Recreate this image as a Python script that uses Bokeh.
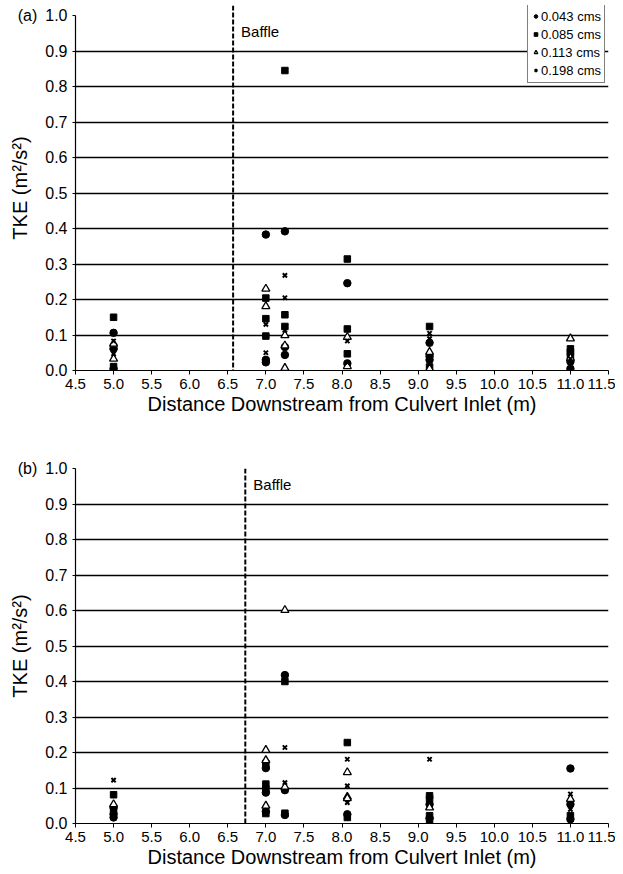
from bokeh.plotting import figure
from bokeh.layouts import column
from bokeh.models import Span, Label, FixedTicker, Legend, LegendItem
from bokeh.embed import file_html
from bokeh.resources import INLINE

FONT = "Liberation Sans"
SERIES = ["0.043 cms", "0.085 cms", "0.113 cms", "0.198 cms"]
X_TICKS = [4.5, 5.0, 5.5, 6.0, 6.5, 7.0, 7.5, 8.0, 8.5, 9.0, 9.5, 10.0, 10.5, 11.0, 11.5]
Y_TICKS = [0.0, 0.1, 0.2, 0.3, 0.4, 0.5, 0.6, 0.7, 0.8, 0.9, 1.0]
BAFFLE_A = 6.57
BAFFLE_B = 6.73

# ---- panel (a) ----
a_c_x = [5.0, 5.0, 5.0, 7.0, 7.0, 7.0, 7.25, 7.25, 7.25, 8.07, 8.07, 9.15, 9.15, 9.15, 11.0, 11.0]
a_c_y = [0.106, 0.061, 0.005, 0.383, 0.03, 0.023, 0.392, 0.044, 0.066, 0.246, 0.02, 0.078, 0.04, 0.03, 0.025, 0.005]
a_s_x = [5.0, 5.0, 5.0, 7.0, 7.0, 7.0, 7.25, 7.25, 7.25, 8.07, 8.07, 8.07, 9.15, 9.15, 11.0, 11.0, 11.0]
a_s_y = [0.15, 0.066, 0.011, 0.204, 0.146, 0.097, 0.845, 0.157, 0.124, 0.314, 0.117, 0.047, 0.124, 0.01, 0.061, 0.052, 0.042]
a_t_x = [5.0, 5.0, 7.0, 7.0, 7.25, 7.25, 7.25, 8.07, 8.07, 9.15, 9.15, 11.0, 11.0]
a_t_y = [0.033, 0.075, 0.23, 0.181, 0.099, 0.07, 0.007, 0.094, 0.012, 0.052, 0.005, 0.09, 0.035]
a_x_x = [5.0, 5.0, 7.0, 7.0, 7.25, 7.25, 7.25, 8.07, 8.07, 9.15, 9.15, 11.0]
a_x_y = [0.083, 0.047, 0.13, 0.05, 0.268, 0.205, 0.113, 0.083, 0.023, 0.105, 0.09, 0.033]

# ---- panel (b) ----
b_c_x = [5.0, 5.0, 5.0, 7.0, 7.0, 7.0, 7.25, 7.25, 7.25, 8.07, 9.15, 9.15, 11.0, 11.0, 11.0]
b_c_y = [0.045, 0.026, 0.017, 0.156, 0.087, 0.034, 0.418, 0.094, 0.024, 0.026, 0.054, 0.015, 0.155, 0.054, 0.012]
b_s_x = [5.0, 5.0, 7.0, 7.0, 7.0, 7.0, 7.25, 7.25, 8.07, 8.07, 9.15, 9.15, 9.15, 9.15, 11.0]
b_s_y = [0.081, 0.036, 0.169, 0.111, 0.097, 0.028, 0.4, 0.029, 0.228, 0.017, 0.078, 0.069, 0.022, 0.008, 0.022]
b_t_x = [5.0, 7.0, 7.0, 7.0, 7.25, 7.25, 8.07, 8.07, 8.07, 9.15, 11.0]
b_t_y = [0.054, 0.207, 0.178, 0.05, 0.601, 0.103, 0.144, 0.075, 0.071, 0.045, 0.069]
b_x_x = [5.0, 7.25, 7.25, 8.07, 8.07, 8.07, 9.15, 11.0, 11.0]
b_x_y = [0.122, 0.214, 0.115, 0.181, 0.106, 0.059, 0.181, 0.083, 0.04]

PX_PER_UNIT = 355


def make_panel(tag, baffle, data, top_border, frame_h, bottom_border, legend):
    ymax = frame_h / PX_PER_UNIT
    p = figure(width=615, height=top_border + frame_h + bottom_border,
               x_range=(4.5, 11.5), y_range=(0.0, ymax),
               output_backend="svg", toolbar_location=None,
               min_border_left=75, min_border_right=7,
               min_border_top=top_border, min_border_bottom=bottom_border)
    p.outline_line_color = None
    p.background_fill_color = "white"
    p.xgrid.visible = False
    p.ygrid.ticker = FixedTicker(ticks=Y_TICKS[1:-1])
    p.ygrid.grid_line_color = "black"
    p.ygrid.grid_line_width = 1.4

    p.xaxis.ticker = FixedTicker(ticks=X_TICKS)
    p.yaxis.ticker = FixedTicker(ticks=Y_TICKS)
    p.yaxis.bounds = (0.0, 1.0)
    p.xaxis.major_label_overrides = {t: f"{t:.1f}" for t in X_TICKS}
    yl = {t: f"{t:.1f}" for t in Y_TICKS}
    yl[1.0] = tag + "\u2002" + "1.0"
    p.yaxis.major_label_overrides = yl
    for ax in (p.xaxis, p.yaxis):
        ax.axis_line_color = "black"
        ax.axis_line_width = 1.2
        ax.major_tick_line_color = "black"
        ax.major_tick_in = 0
        ax.minor_tick_line_color = None
        ax.major_label_text_font = FONT
        ax.major_label_text_color = "black"
        ax.axis_label_text_font = FONT
        ax.axis_label_text_font_size = "20px"
        ax.axis_label_text_font_style = "normal"
        ax.axis_label_text_color = "black"
    p.xaxis.major_label_text_font_size = "15px"
    p.yaxis.major_label_text_font_size = "16px"
    p.xaxis.major_tick_out = 4
    p.yaxis.major_tick_out = 3
    p.xaxis.major_label_standoff = 4
    p.yaxis.major_label_standoff = 5
    p.xaxis.axis_label = "Distance Downstream from Culvert Inlet (m)"
    p.yaxis.axis_label = "TKE (m\u00b2/s\u00b2)"
    p.xaxis.axis_label_standoff = 1
    p.yaxis.axis_label_standoff = -16

    p.add_layout(Span(location=baffle, dimension="height", line_color="black",
                      line_width=2, line_dash="5 2"))

    (cx, cy), (sx, sy), (tx, ty), (xx, xy) = data
    r1 = p.scatter(cx, cy, marker="circle", size=7.5, color="black")
    r2 = p.scatter(sx, sy, marker="square", size=6.5, color="black")
    r3 = p.scatter(tx, ty, marker="triangle", size=8, line_color="black",
                   fill_color="white", line_width=1.3)
    r4 = p.scatter(xx, xy, marker="x", size=6, line_color="black", line_width=2)

    p.add_layout(Label(x=baffle, y=0.956, x_offset=8, text="Baffle", text_font=FONT,
                       text_font_size="15px", text_baseline="middle",
                       text_align="left", text_color="black"))

    if legend:
        lg = Legend(items=[LegendItem(label=SERIES[i], renderers=[r])
                           for i, r in enumerate([r1, r2, r3, r4])],
                    location=(452, frame_h - 78))
        lg.border_line_color = "black"
        lg.border_line_width = 1
        lg.background_fill_color = "white"
        lg.background_fill_alpha = 1.0
        lg.padding = 3
        lg.spacing = 0
        lg.margin = 0
        lg.label_height = 18
        lg.glyph_height = 14
        lg.glyph_width = 9
        lg.label_standoff = 1
        lg.label_text_font = FONT
        lg.label_text_font_size = "13px"
        lg.label_text_color = "black"
        p.add_layout(lg)
    return p


pa = make_panel("(a)", BAFFLE_A,
                [(a_c_x, a_c_y), (a_s_x, a_s_y), (a_t_x, a_t_y), (a_x_x, a_x_y)],
                5, 365, 56, True)
pb = make_panel("(b)", BAFFLE_B,
                [(b_c_x, b_c_y), (b_s_x, b_s_y), (b_t_x, b_t_y), (b_x_x, b_x_y)],
                42, 355, 50, False)

layout = column(pa, pb, spacing=0)
open("out.html", "w").write(file_html(layout, INLINE))
